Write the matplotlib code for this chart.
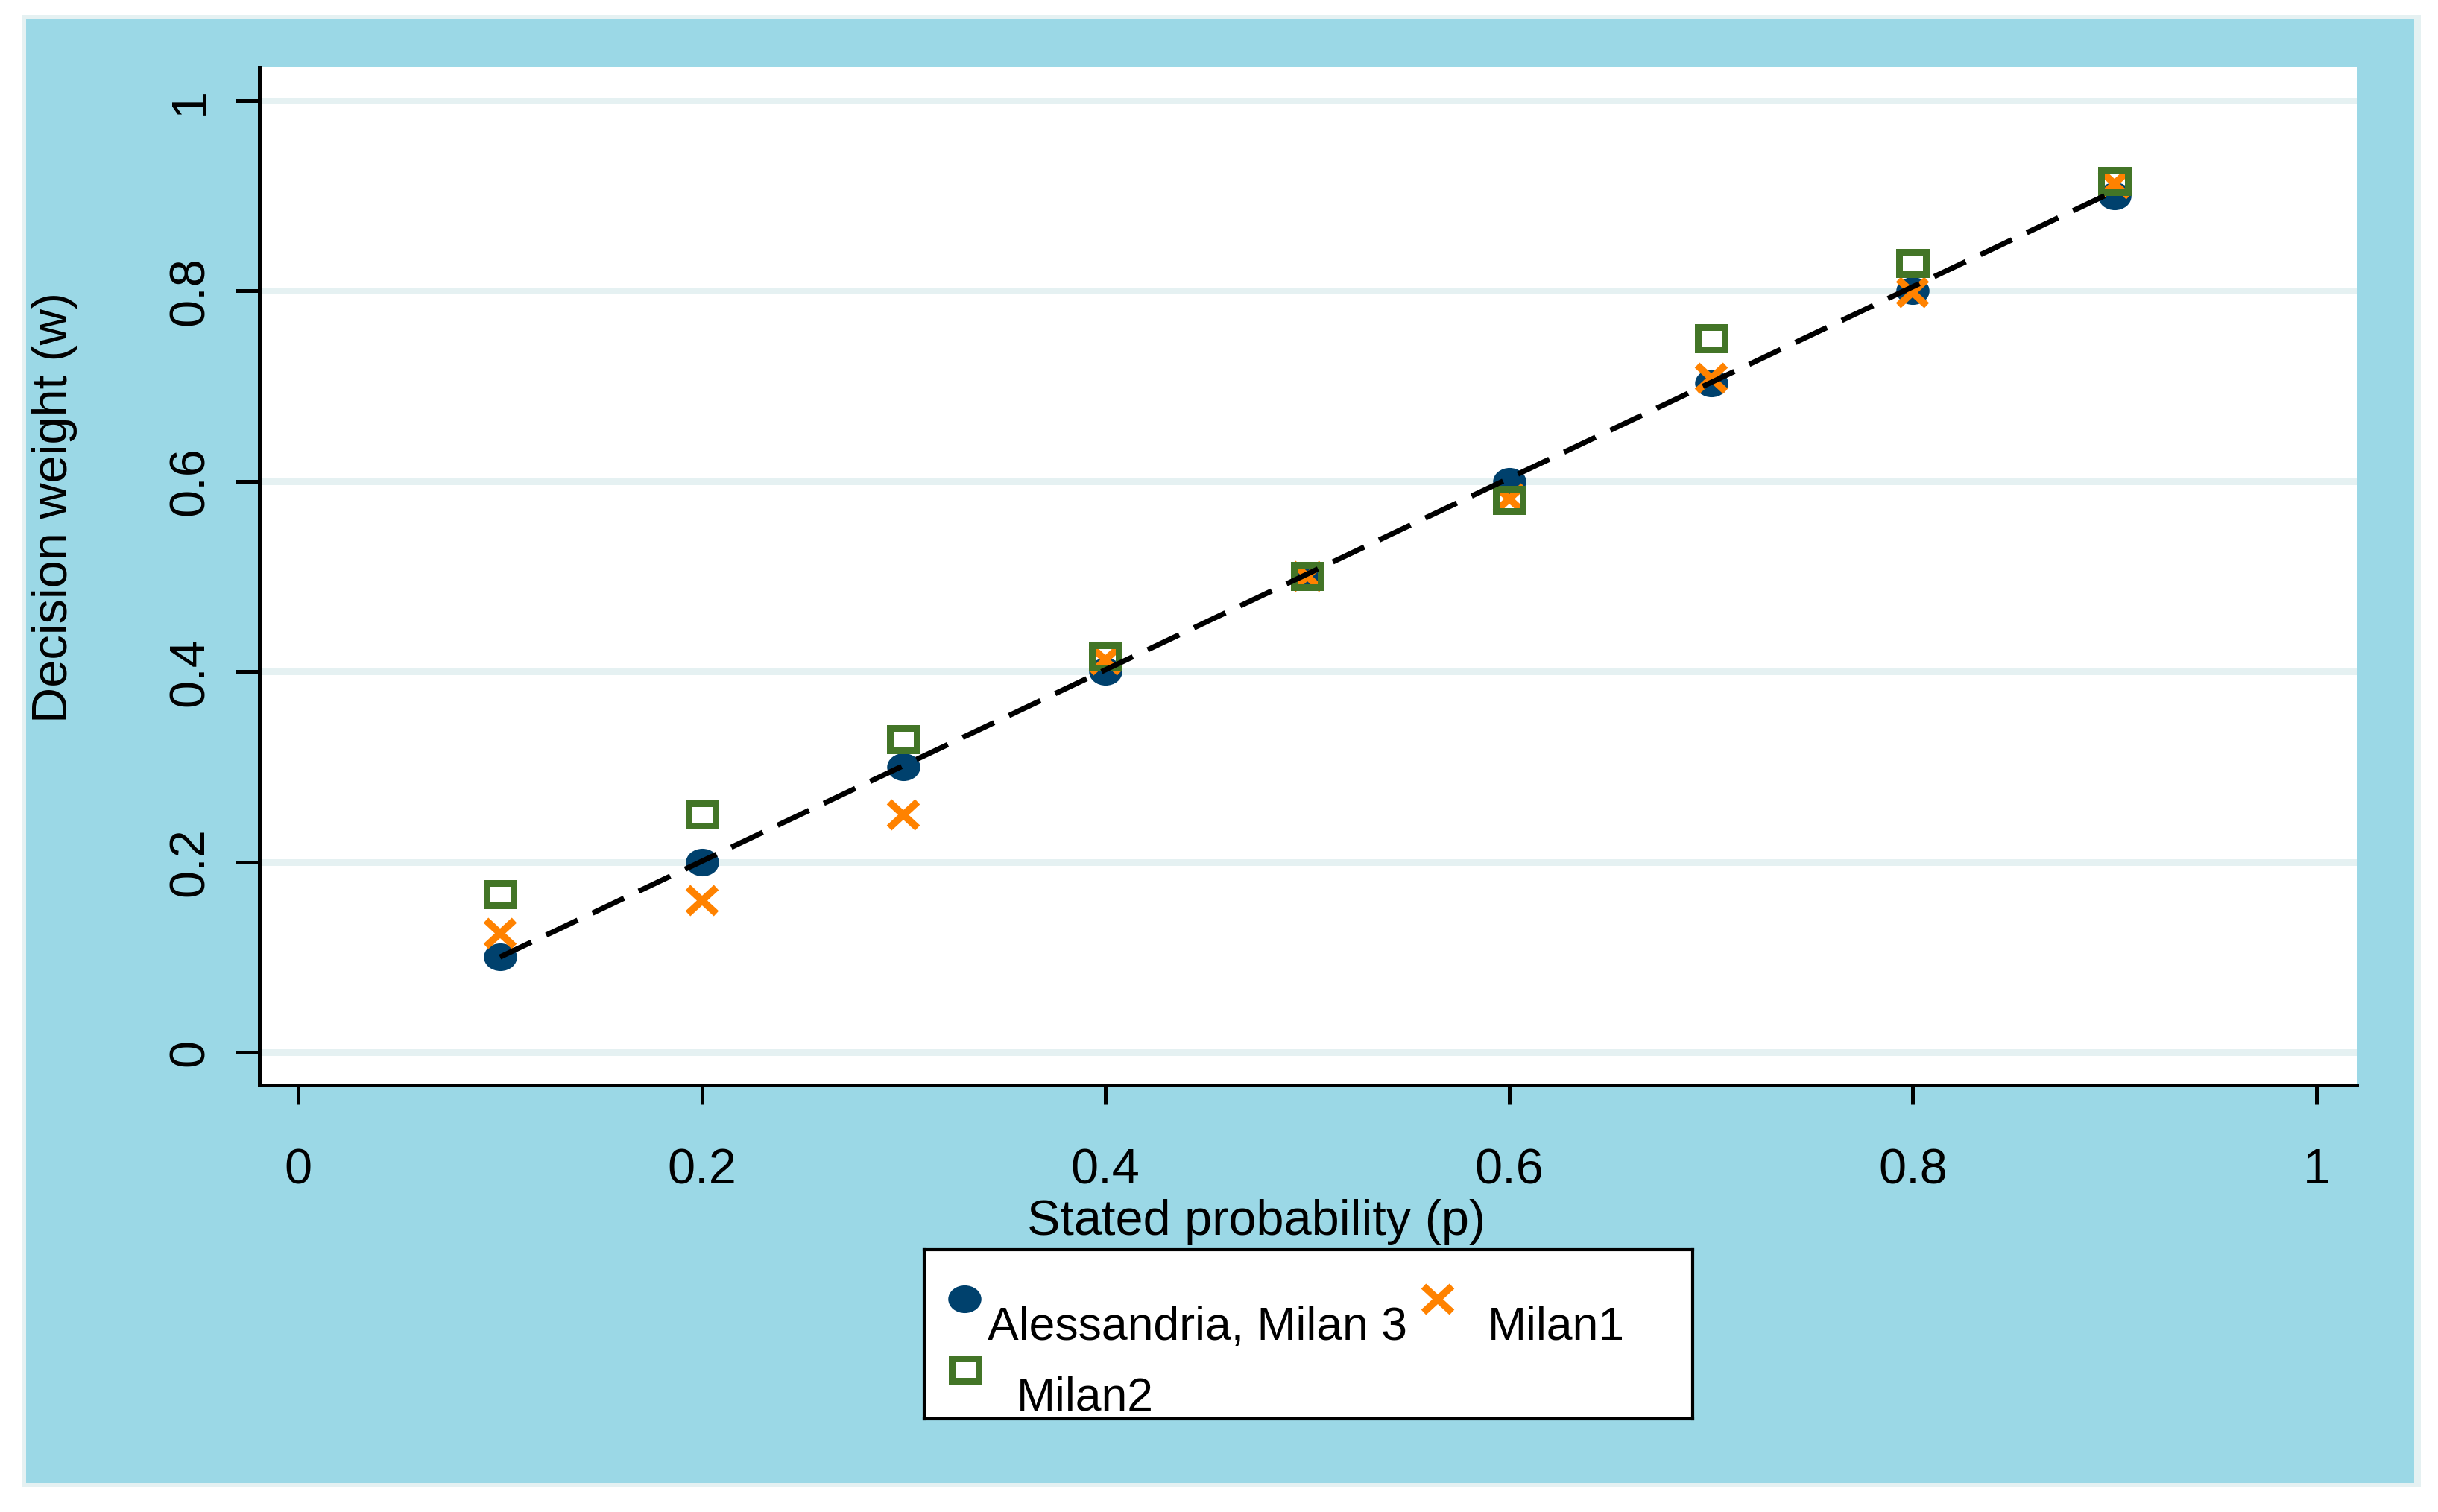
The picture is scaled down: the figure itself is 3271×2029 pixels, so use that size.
import matplotlib
matplotlib.use('Agg')
import matplotlib.pyplot as plt
from matplotlib.markers import MarkerStyle
from matplotlib.transforms import Affine2D
from matplotlib.patches import Rectangle

plt.rcParams['font.family'] = ['Liberation Sans', 'DejaVu Sans']

# data
p = [0.1, 0.2, 0.3, 0.4, 0.5, 0.6, 0.7, 0.8, 0.9]
w_alessandria = [0.100, 0.200, 0.300, 0.400, 0.500, 0.600, 0.703, 0.800, 0.900]
w_milan1 = [0.125, 0.160, 0.250, 0.413, 0.500, 0.582, 0.709, 0.799, 0.913]
w_milan2 = [0.166, 0.250, 0.329, 0.416, 0.500, 0.580, 0.750, 0.829, 0.915]
fit_p = [0.1, 0.9]
fit_w = [0.100, 0.905]

ticks = [0, 0.2, 0.4, 0.6, 0.8, 1]
tick_labels = ['0', '0.2', '0.4', '0.6', '0.8', '1']
series_names = ['Alessandria, Milan 3', 'Milan1', 'Milan2']

navy = '#00416d'
orange = '#ff8200'
green = '#437527'
bg_blue = '#9bd8e6'
light = '#e5f1f2'

W, H, DPI = 3271, 2029, 300


def box(x0, y0, x1, y1):
    # pixel box (top-left origin) -> figure fraction rect
    return [x0 / W, 1 - y1 / H, (x1 - x0) / W, (y1 - y0) / H]


fig = plt.figure(figsize=(W / DPI, H / DPI), dpi=DPI, facecolor='white')

# outer graph region
r = box(29, 20, 3248, 1996)
fig.add_artist(Rectangle((r[0], r[1]), r[2], r[3], transform=fig.transFigure,
                         facecolor=light, edgecolor='none', zorder=-3))
r = box(35, 26, 3239, 1990)
fig.add_artist(Rectangle((r[0], r[1]), r[2], r[3], transform=fig.transFigure,
                         facecolor=bg_blue, edgecolor='none', zorder=-2))

ax = fig.add_axes(box(348, 90, 3162, 1456))
ax.set_facecolor('white')

circ = MarkerStyle('o', transform=Affine2D().scale(1.2, 1.0))
xmark = MarkerStyle('x', transform=Affine2D().scale(1.06, 1.0))
sq = MarkerStyle('s', transform=Affine2D().scale(1.24, 1.0))

ax.plot(p, w_alessandria, ls='none', marker=circ, ms=8.9, mfc=navy, mec='none', zorder=3)
ax.plot(p, w_milan1, ls='none', marker=xmark, ms=8.4, mew=2.3, color=orange, zorder=4)
ax.plot(p, w_milan2, ls='none', marker=sq, ms=7.0, mew=2.16, mfc='none', mec=green, zorder=5)
ax.plot(fit_p, fit_w, color='black', lw=1.7, ls=(0, (6.6, 3.1)), zorder=6)

ax.set_xlim(-0.0192, 1.0199)
ax.set_ylim(-0.0345, 1.0352)

ax.set_xticks(ticks)
ax.set_xticklabels(tick_labels)
ax.set_yticks(ticks)
ax.set_yticklabels(tick_labels, rotation=90, va='center')

ax.tick_params(axis='x', length=6.2, width=1.2, pad=14, labelsize=16)
ax.tick_params(axis='y', length=7.7, width=1.2, pad=7, labelsize=16)

ax.grid(axis='y', color=light, lw=2.16)
ax.set_axisbelow(True)

for s in ['top', 'right']:
    ax.spines[s].set_visible(False)
for s in ['left', 'bottom']:
    ax.spines[s].set_linewidth(1.2)
    ax.spines[s].set_color('black')

fig.text(1686 / W, 1 - 1657 / H, 'Stated probability (p)', ha='center',
         va='baseline', fontsize=16)
fig.text(90 / W, 1 - 681 / H, 'Decision weight (w)', ha='center', va='baseline',
         rotation=90, rotation_mode='anchor', fontsize=16)

# legend box, laid out like the Stata one
lax = fig.add_axes(box(1240, 1677, 2271, 1904))
lax.set_facecolor('white')
lax.set_xlim(1240, 2271)
lax.set_ylim(1904, 1677)
lax.set_xticks([])
lax.set_yticks([])
for s in lax.spines.values():
    s.set_linewidth(1.0)
    s.set_color('black')

lax.plot([1294], [1743], ls='none', marker=circ, ms=8.9, mfc=navy, mec='none')
lax.plot([1929], [1743], ls='none', marker=xmark, ms=8.4, mew=2.3, color=orange)
lax.plot([1295], [1838], ls='none', marker=sq, ms=7.0, mew=2.16, mfc='none', mec=green)
lax.text(1325, 1798, series_names[0], ha='left', va='baseline', fontsize=15)
lax.text(1996, 1798, series_names[1], ha='left', va='baseline', fontsize=15)
lax.text(1364, 1893, series_names[2], ha='left', va='baseline', fontsize=15)

fig.savefig('out.png', dpi=DPI)
